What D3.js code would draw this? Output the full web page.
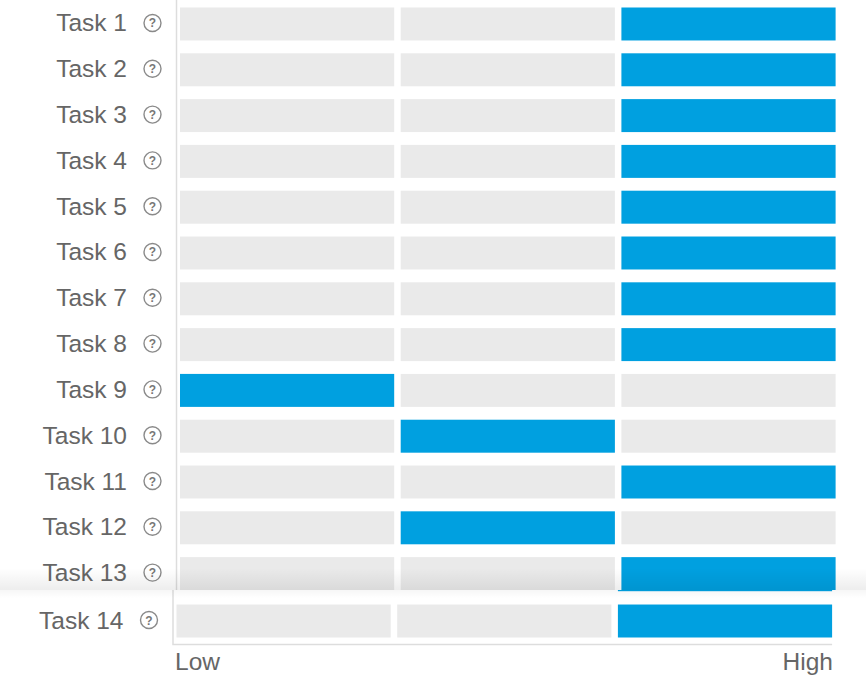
<!DOCTYPE html>
<html>
<head>
<meta charset="utf-8">
<script src="https://cdn.jsdelivr.net/npm/d3@7"></script>
<style>
    html, body { margin: 0; padding: 0; background: #fff; }
    svg { display: block; }
    text { font-family: "Liberation Sans", Arial, sans-serif; }
</style>
</head>
<body>
<div class="chart"></div>
<script>
const width = 866
const height = 678

const tasks = ['Task 1','Task 2','Task 3','Task 4','Task 5','Task 6','Task 7','Task 8','Task 9','Task 10','Task 11','Task 12','Task 13','Task 14']
const selected = [3,3,3,3,3,3,3,3,1,2,3,2,3,3]
const levels = [1,2,3]
const axisLabels = ['Low','High']

const grey = '#eaeaea'
const blue = '#00a0e0'
const textColor = '#666'

const x = d3.scaleBand().domain(levels).range([180,835.6]).paddingInner(0.0295)
const y = d3.scaleBand().domain(tasks).range([7.5,7.5+13*45.8+33]).paddingInner(0.28)

const rows = tasks.map((t,i)=>({task:t,level:selected[i]}))
const pinned = rows.slice(-1)
const scrolled = rows.slice(0,-1)

const svg = d3.select('.chart')
    .append('svg')
        .attr('width', width)
        .attr('height', height)

const defs = svg.append('defs')
defs.append('clipPath').attr('id','scrollClip')
    .append('rect').attr('width',width).attr('height',590)

function gradient(id,stops){
    defs.append('linearGradient')
        .attr('id',id).attr('x1',0).attr('x2',0).attr('y1',0).attr('y2',1)
        .selectAll('stop')
        .data(stops)
        .join('stop')
            .attr('offset',d=>d[0])
            .attr('stop-color','#000')
            .attr('stop-opacity',d=>d[1])
}
gradient('shadeUp',[[0,0],[1,0.07]])
gradient('shadeDown',[[0,0.035],[1,0]])

function drawRows(g,data){
    let row = g.selectAll('g.row')
        .data(data)
        .join('g')
            .attr('class','row')
            .attr('transform',d=>`translate(0,${y(d.task)})`)

    row.selectAll('rect')
        .data(d=>levels.map(l=>({level:l,on:l===d.level})))
        .join('rect')
            .attr('x',d=>x(d.level))
            .attr('width',x.bandwidth())
            .attr('height',y.bandwidth())
            .attr('fill',d=>d.on?blue:grey)

    row.append('text')
        .attr('x',127)
        .attr('y',y.bandwidth()/2+7.5)
        .attr('text-anchor','end')
        .attr('font-size',24.5)
        .attr('fill',textColor)
        .text(d=>d.task)

    row.append('circle')
        .attr('cx',152.5)
        .attr('cy',y.bandwidth()/2-1)
        .attr('r',8.5)
        .attr('fill','none')
        .attr('stroke','#8a8a8a')
        .attr('stroke-width',1.4)

    row.append('text')
        .attr('x',152.5)
        .attr('y',y.bandwidth()/2+3.5)
        .attr('text-anchor','middle')
        .attr('font-size',12)
        .attr('font-weight','bold')
        .attr('fill','#777')
        .text('?')
}

// scrolling part, cut off where the pinned row starts
let upper = svg.append('g').attr('clip-path','url(#scrollClip)')
upper.append('line')
    .attr('x1',176.5).attr('x2',176.5)
    .attr('y1',0).attr('y2',590)
    .attr('stroke','#ddd').attr('stroke-width',1.5)
drawRows(upper,scrolled)

upper.append('rect')
    .attr('y',568).attr('width',width).attr('height',22)
    .attr('fill','url(#shadeUp)')

// pinned last row, sits a little left and lower
let lower = svg.append('g').attr('transform','translate(-3.5,1.6)')
drawRows(lower,pinned)

lower.append('path')
    .attr('d',`M176.5,${590-1.6}V643H${x(3)+x.bandwidth()}`)
    .attr('fill','none')
    .attr('stroke','#ddd')
    .attr('stroke-width',1.5)

svg.append('rect')
    .attr('y',590).attr('width',width).attr('height',8)
    .attr('fill','url(#shadeDown)')

// thin blue edge left under the cut
lower.append('rect')
    .attr('x',x(3))
    .attr('y',590-1.6)
    .attr('width',x.bandwidth())
    .attr('height',1.2)
    .attr('fill',blue)

svg.selectAll('text.end')
    .data(axisLabels)
    .join('text')
        .attr('class','end')
        .attr('x',(d,i)=>i===0?175:833)
        .attr('y',670)
        .attr('text-anchor',(d,i)=>i===0?'start':'end')
        .attr('font-size',24.5)
        .attr('fill',textColor)
        .text(d=>d)
</script>
</body>
</html>
